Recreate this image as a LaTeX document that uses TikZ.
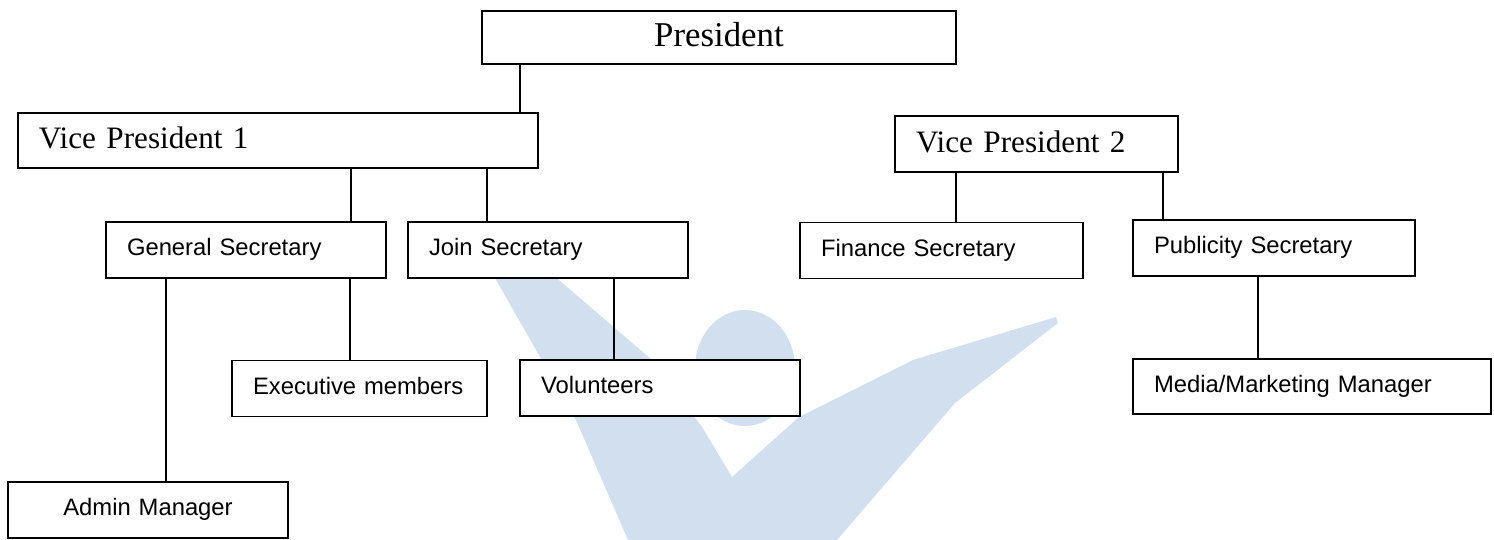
\documentclass[tikz,border=0pt]{standalone}
\usepackage{fontspec}
\setmainfont{Liberation Serif}
\setsansfont{Liberation Sans}
\newlength{\du}
\setlength{\du}{0.5pt}
\definecolor{wmarkcolor}{rgb}{0.819608, 0.874510, 0.933333}
\tikzset{
  tbox/.style={draw, fill=white, line width=1.6\du, inner xsep=21\du, inner ysep=0pt,
    align=left, font=\fontsize{15.6}{19}\selectfont, text height=0.82em, text depth=0pt},
  sbox/.style={draw, fill=white, line width=1.6\du, inner xsep=21\du, inner ysep=0pt,
    minimum height=56\du, align=left, font=\sffamily\fontsize{11.9}{14}\selectfont,
    text height=0.8em, text depth=0.21em},
  orgline/.style={line width=1.4\du}
}
\begin{document}
\begin{tikzpicture}[x=1\du, y=-1\du]
\useasboundingbox (0,0) rectangle (1494,540);
% watermark
\fill[wmarkcolor] (479,250)--(524,250)--(652,360)--(702,427)--(732,477)--(799,417)--(913,360)
  --(1056,317)--(1058,323)--(955,403)--(837,540)--(628,540)--(576,420)--cycle;
\fill[wmarkcolor] (745,368) ellipse (50 and 58);
% boxes
\node[tbox, text width=432\du, align=center, minimum height=53\du, font=\fontsize{17.4}{20}\selectfont, text height=0.95em] (pres) at (719,37.5) {President};
\node[tbox, text width=478\du, minimum height=55\du] (vpa) at (278,140.5) {Vice President 1};
\node[tbox, text width=241\du, minimum height=56\du] (vpb) at (1036.5,144) {Vice President 2};
\node[sbox, text width=238\du] (gensec) at (246,250) {General Secretary};
\node[sbox, text width=238\du] (joinsec) at (548,250) {Join Secretary};
\node[sbox, text width=241\du] (finsec) at (941.5,250.5) {Finance Secretary};
\node[sbox, text width=240\du] (pubsec) at (1274,248) {Publicity Secretary};
\node[sbox, text width=213\du] (execm) at (359.5,388.5) {Executive members};
\node[sbox, text width=238\du] (volun) at (660,388) {Volunteers};
\node[sbox, text width=238\du, align=center] (admin) at (148,510) {Admin Manager};
\node[sbox, text width=316\du, minimum height=55\du] (media) at (1312,386.5) {Media/Marketing Manager};
% connectors
\draw[orgline] (pres.south -| 520,0) -- (vpa.north -| 520,0);
\draw[orgline] (vpa.south -| 351,0) -- (gensec.north -| 351,0);
\draw[orgline] (vpa.south -| 487,0) -- (joinsec.north -| 487,0);
\draw[orgline] (vpb.south -| 956,0) -- (finsec.north -| 956,0);
\draw[orgline] (vpb.south -| 1163,0) -- (pubsec.north -| 1163,0);
\draw[orgline] (gensec.south -| 166,0) -- (admin.north -| 166,0);
\draw[orgline] (gensec.south -| 350,0) -- (execm.north -| 350,0);
\draw[orgline] (joinsec.south -| 614,0) -- (volun.north -| 614,0);
\draw[orgline] (pubsec.south -| 1258,0) -- (media.north -| 1258,0);
\end{tikzpicture}
\end{document}
